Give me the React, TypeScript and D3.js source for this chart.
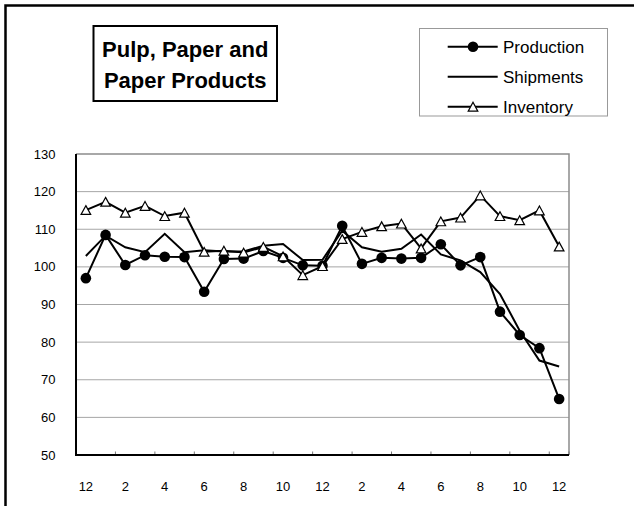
import React from "react";
import * as d3 from "d3";

const months = ["12","1","2","3","4","5","6","7","8","9","10","11","12","1","2","3","4","5","6","7","8","9","10","11","12"];
const production = [97.0, 108.5, 100.5, 103.1, 102.7, 102.6, 93.4, 102.1, 102.2, 104.2, 102.4, 100.4, 100.3, 110.9, 100.8, 102.4, 102.2, 102.4, 106.0, 100.4, 102.6, 88.1, 81.9, 78.4, 64.9];
const shipments = [102.9, 108.3, 105.2, 103.9, 108.8, 103.9, 104.4, 104.1, 104.1, 105.6, 106.1, 101.8, 101.9, 109.6, 105.2, 104.0, 104.8, 108.6, 103.3, 101.7, 98.6, 92.8, 83.0, 75.1, 73.5];
const inventory = [115.1, 117.3, 114.4, 116.2, 113.5, 114.4, 104.0, 104.3, 103.8, 105.3, 102.8, 97.8, 100.2, 107.4, 109.3, 110.8, 111.5, 104.9, 112.1, 113.1, 119.0, 113.5, 112.4, 115.0, 105.4];
const yTicks = [50, 60, 70, 80, 90, 100, 110, 120, 130];
const seriesNames = ["Production", "Shipments", "Inventory"];
const titleLines = ["Pulp, Paper and", "Paper Products"];

const W = 634, H = 506;
const left = 76, right = 569, top = 154, bottom = 455;
const FONT = "'Liberation Sans', Arial, sans-serif";

const triPath = "M0,-4.4L4.8,4.4L-4.8,4.4Z";

export default function App() {
  const idx = d3.range(months.length);
  const x = d3.scaleBand<number>().domain(idx).range([left, right]);
  const bw = x.bandwidth();
  const cx = (i: number) => (x(i) as number) + bw / 2;
  const y = d3.scaleLinear().domain([50, 130]).range([bottom, top]);
  const line = d3.line<number>().x((_, i) => cx(i)).y((d) => y(d));

  const tickBounds = idx.filter((i) => i > 0 && i % 2 === 0).map((i) => x(i) as number);
  tickBounds.push(right);

  return (
    <svg width={W} height={H} style={{ position: "absolute", left: 0, top: 0, background: "#fff" }}>
      <rect x={0} y={0} width={W} height={H} fill="#fff" />
      {/* outer frame */}
      <path d={`M5.5,${H + 5}V5.5H${W + 5}`} fill="none" stroke="#000" strokeWidth={2.5} />

      {/* gridlines */}
      {yTicks.filter((t) => t > 50 && t < 130).map((t) => (
        <line key={t} x1={left} x2={right} y1={y(t)} y2={y(t)} stroke="#a6a6a6" strokeWidth={1} />
      ))}
      {/* plot border top/right */}
      <path d={`M${left},${y(130)}H${right}V${bottom}`} fill="none" stroke="#8c8c8c" strokeWidth={1.5} />
      {/* x ticks */}
      {tickBounds.map((b, k) => (
        <line key={k} x1={b} x2={b} y1={bottom} y2={bottom - 3.5} stroke="#777" strokeWidth={1} />
      ))}
      {/* axes */}
      <line x1={left} x2={left} y1={y(130)} y2={bottom} stroke="#000" strokeWidth={2} />
      <line x1={left - 1} x2={right} y1={bottom} y2={bottom} stroke="#000" strokeWidth={2} />

      {/* y labels */}
      {yTicks.map((t) => (
        <text key={t} x={55.5} y={y(t) + 4.6} textAnchor="end" fontFamily={FONT} fontSize={13} fill="#000">{t}</text>
      ))}
      {/* x labels */}
      {idx.filter((i) => i % 2 === 0).map((i) => (
        <text key={i} x={cx(i)} y={491.3} textAnchor="middle" fontFamily={FONT} fontSize={13} fill="#000">{months[i]}</text>
      ))}

      {/* production */}
      <path d={line(production) || ""} fill="none" stroke="#000" strokeWidth={2} />
      {production.map((v, i) => (
        <circle key={i} cx={cx(i)} cy={y(v)} r={5.3} fill="#000" />
      ))}
      {/* shipments */}
      <path d={line(shipments) || ""} fill="none" stroke="#000" strokeWidth={2} />
      {/* inventory */}
      <path d={line(inventory) || ""} fill="none" stroke="#000" strokeWidth={2} />
      {inventory.map((v, i) => (
        <path key={i} d={triPath} transform={`translate(${cx(i)},${y(v)})`} fill="#fff" stroke="#000" strokeWidth={1.2} />
      ))}

      {/* title box */}
      <rect x={93.5} y={26} width={183.5} height={75} fill="#fff" stroke="#000" strokeWidth={2} />
      {titleLines.map((t, k) => (
        <text key={k} x={185.2} y={56.5 + k * 31.5} textAnchor="middle" fontFamily={FONT} fontWeight="bold" fontSize={22} fill="#000">{t}</text>
      ))}

      {/* legend */}
      <rect x={419.5} y={28.5} width={188} height={87.5} fill="#fff" stroke="#999" strokeWidth={1} />
      {seriesNames.map((name, k) => {
        const ly = 46.7 + k * 30;
        return (
          <g key={name}>
            <line x1={447.7} x2={497.7} y1={ly} y2={ly} stroke="#000" strokeWidth={2} />
            {k === 0 && <circle cx={473} cy={ly} r={5.3} fill="#000" />}
            {k === 2 && <path d={triPath} transform={`translate(${473},${ly})`} fill="#fff" stroke="#000" strokeWidth={1.2} />}
            <text x={503} y={ly + 6} fontFamily={FONT} fontSize={17} fill="#000">{name}</text>
          </g>
        );
      })}
    </svg>
  );
}
